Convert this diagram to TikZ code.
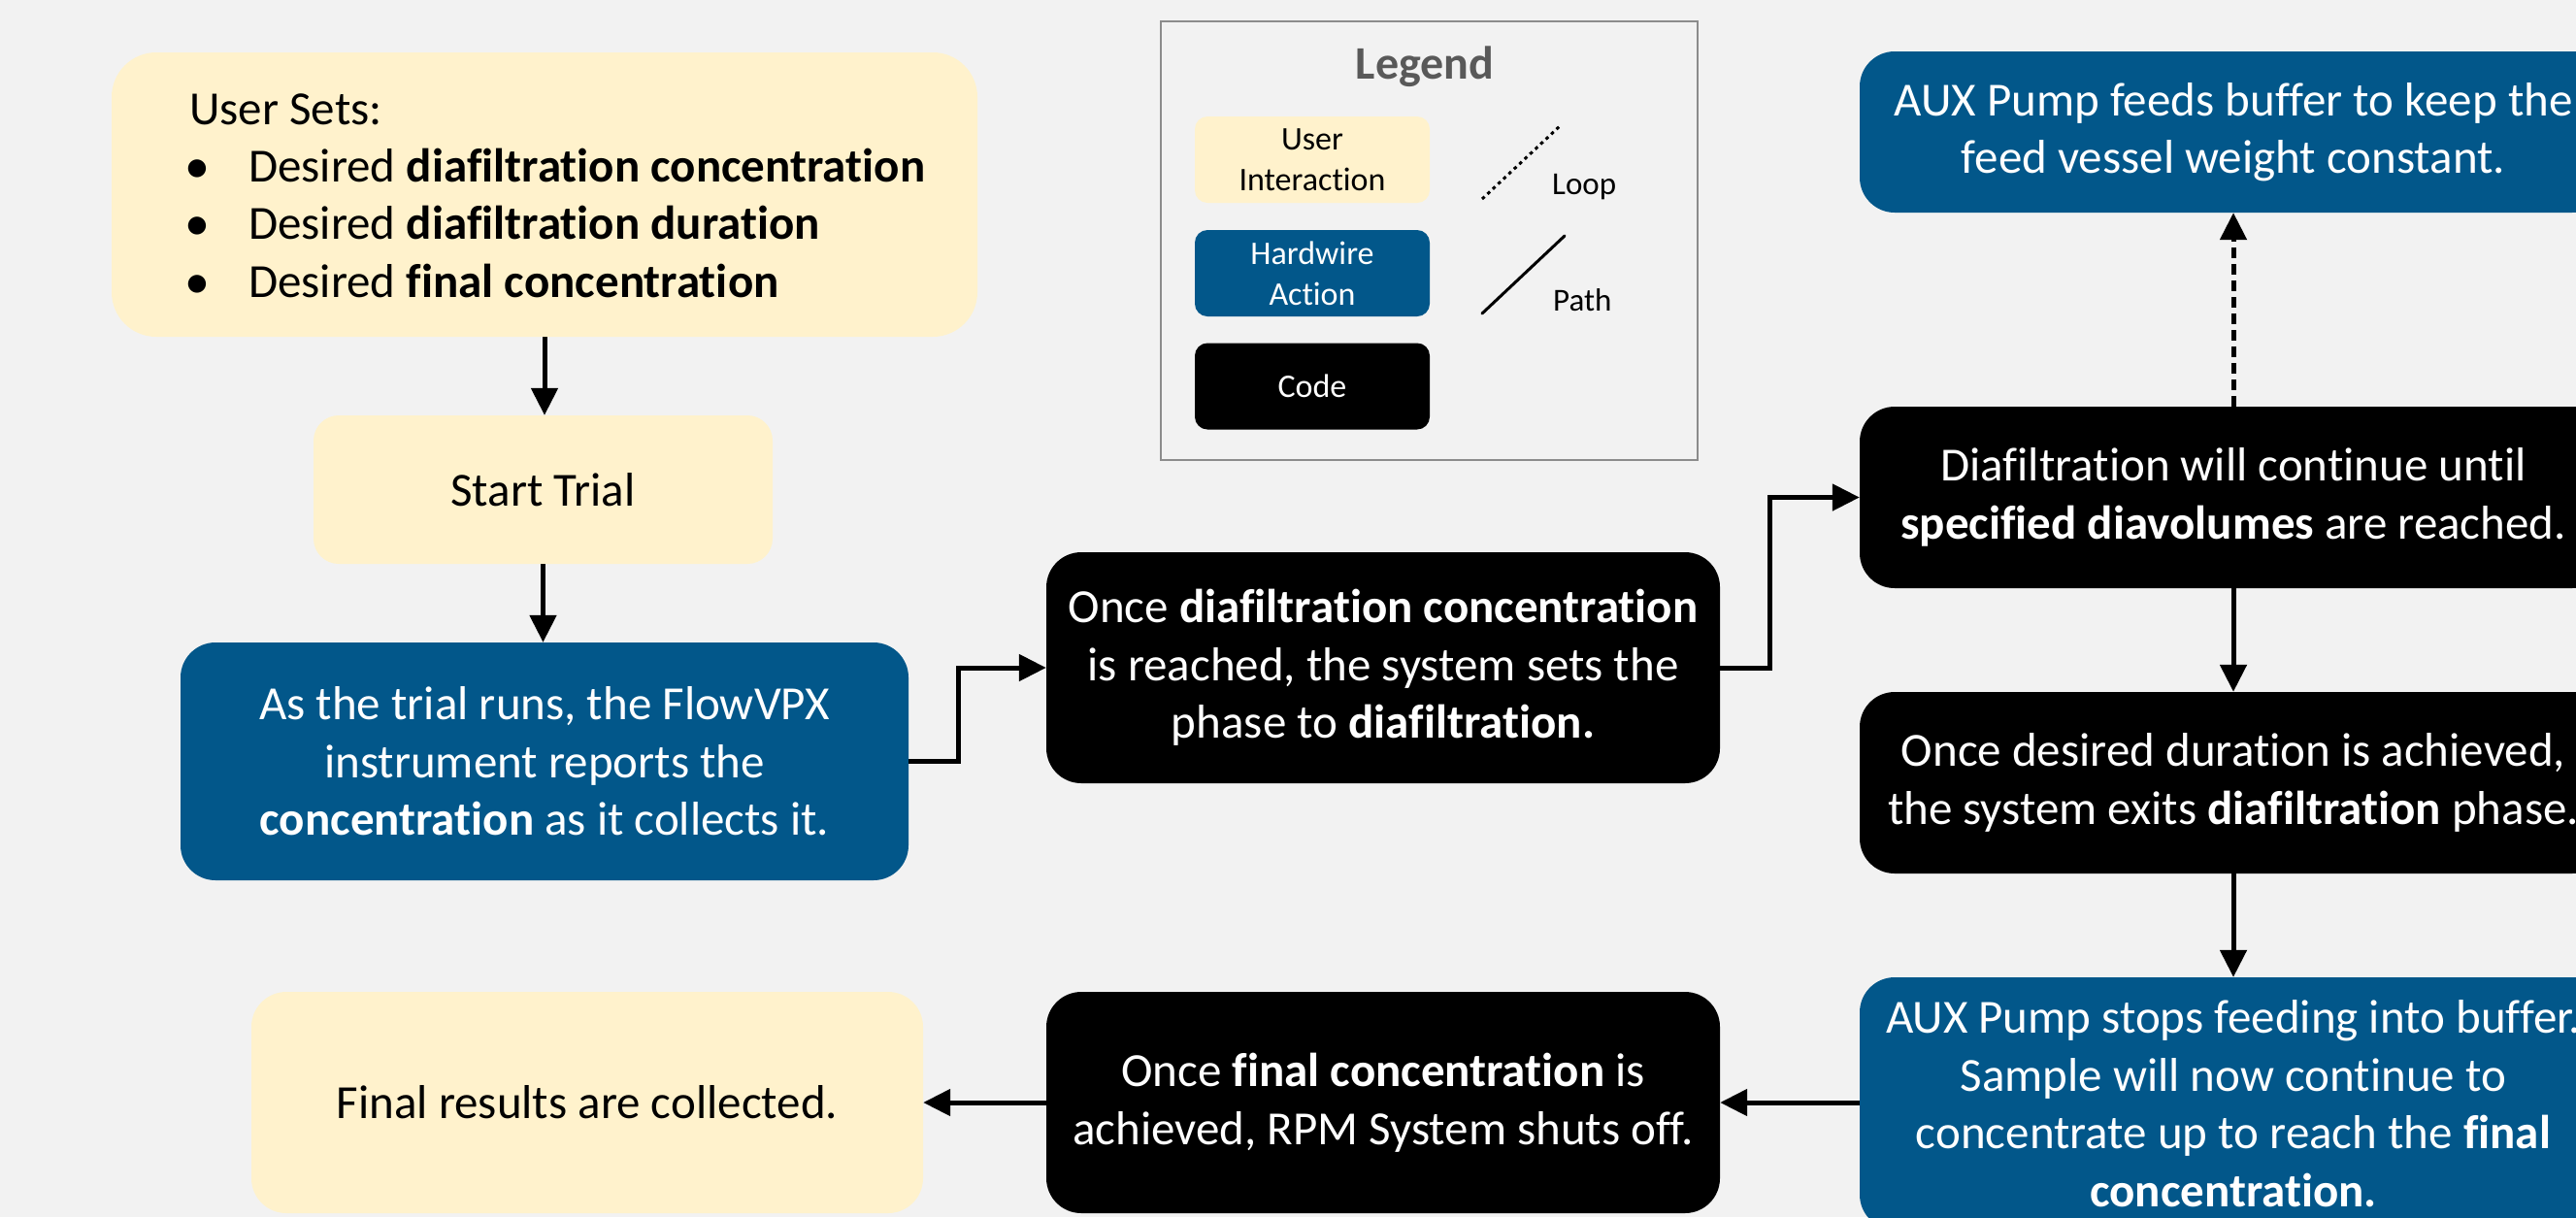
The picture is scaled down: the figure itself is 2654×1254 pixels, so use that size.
\documentclass[tikz,border=0pt]{standalone}
\usepackage{fontspec}
\setmainfont{Carlito}[Ligatures=NoCommon]
\usetikzlibrary{arrows.meta}
\definecolor{bg}{HTML}{F2F2F2}
\definecolor{ylw}{HTML}{FFF2CC}
\definecolor{blu}{HTML}{02578A}
\definecolor{lgray}{HTML}{595959}
\definecolor{lborder}{HTML}{8C8C8C}
\newcommand{\mainfs}{\fontsize{49}{59.5}\selectfont}
\newcommand{\legfs}{\fontsize{34}{42}\selectfont}
\begin{document}
\begin{tikzpicture}[x=1pt,y=-1pt,
  box/.style={rounded corners=36pt, inner sep=0pt, align=center, font=\mainfs},
  ubox/.style={box, fill=ylw, text=black},
  hbox/.style={box, fill=blu, text=white},
  cbox/.style={box, fill=black, text=white},
  legbox/.style={rounded corners=13pt, inner sep=0pt, align=center, font=\legfs,
     minimum width=242pt, minimum height=89pt},
  arr/.style={line width=5pt, -{Triangle[length=28pt,width=27pt]}},
  lbl/.style={inner sep=0pt, font=\mainfs},
  bul/.style={inner sep=0pt, anchor=base, font=\fontsize{52}{52}\selectfont}
]
\useasboundingbox (0,0) rectangle (2654,1254);
\fill[bg] (0,0) rectangle (2654,1254);
\clip (0,0) rectangle (2654,1254);

% left column
\node[ubox, rounded corners=46pt, minimum width=892pt, minimum height=293pt] (sets) at (561,200.5) {};
\node[lbl, anchor=base west] (sets0) at (195,128) {User Sets:};
\node[lbl, anchor=base west] (sets1) at (256,187) {Desired \textbf{diafiltration concentration}};
\node[lbl, anchor=base west] (sets2) at (256,246) {Desired \textbf{diafiltration duration}};
\node[lbl, anchor=base west] (sets3) at (256,306) {Desired \textbf{final concentration}};
\node[bul] (b1) at (203,188) {•};
\node[bul] (b2) at (203,247) {•};
\node[bul] (b3) at (203,307) {•};

\node[ubox, rounded corners=26pt, minimum width=473pt, minimum height=153pt] (start) at (559.5,504.5) {Start Trial};

\node[hbox, minimum width=750pt, minimum height=245pt] (runs) at (561,784.5)
  {As the trial runs, the FlowVPX\\instrument reports the\\\textbf{concentration} as it collects it.};

\node[cbox, minimum width=694pt, minimum height=238pt] (once1) at (1425,688)
  {Once \textbf{diafiltration concentration}\\is reached, the system sets the\\phase to \textbf{diafiltration.}};

\node[ubox, minimum width=692pt, minimum height=228pt] (final) at (605,1136) {Final results are collected.};

\node[cbox, minimum width=694pt, minimum height=228pt] (once2) at (1425,1136)
  {Once \textbf{final concentration} is\\achieved, RPM System shuts off.};

% right column
\node[hbox, minimum width=770pt, minimum height=166pt] (aux1) at (2301,136)
  {AUX Pump feeds buffer to keep the\\feed vessel weight constant.};
\node[cbox, minimum width=770pt, minimum height=187pt] (dia) at (2301,512.5)
  {Diafiltration will continue until\\\textbf{specified diavolumes} are reached.};
\node[cbox, minimum width=770pt, minimum height=187pt] (dur) at (2301,806.5)
  {Once desired duration is achieved,\\the system exits \textbf{diafiltration} phase.};
\node[hbox, minimum width=770pt, minimum height=260pt] (aux2) at (2301,1137)
  {AUX Pump stops feeding into buffer.\\Sample will now continue to\\concentrate up to reach the \textbf{final}\\\textbf{concentration.}};

% connectors
\draw[arr] (sets.south) -- (sets.south |- start.north);
\draw[arr] (start.south) -- (start.south |- runs.north);
\draw[arr] (runs.east) -- ++(51,0) |- (once1.west);
\draw[arr] (once1.east) -- ++(51,0) |- (dia.west);
\draw[arr, dash pattern=on 11pt off 6pt] (dia.north) -- (aux1.south);
\draw[arr] (dia.south) -- (dur.north);
\draw[arr] (dur.south) -- (aux2.north);
\draw[arr] (aux2.west |- once2.east) -- (once2.east);
\draw[arr] (once2.west) -- (final.east);

% legend
\node[draw=lborder, line width=2pt, inner sep=0pt, minimum width=553pt, minimum height=452pt] (legend) at (1472.5,248) {};
\node[inner sep=0pt, anchor=base, text=lgray, font=\fontsize{48}{54}\selectfont\bfseries] (legtitle) at (1468,81) {Legend};
\node[legbox, fill=ylw, text=black] (lu) at (1352,164.5) {User\\Interaction};
\node[legbox, fill=blu, text=white] (lh) at (1352,281.5) {Hardwire\\Action};
\node[legbox, fill=black, text=white] (lc) at (1352,398) {Code};
\coordinate (loopa) at (1527,205);
\coordinate (loopb) at (1608,129);
\coordinate (patha) at (1527,323);
\coordinate (pathb) at (1612,243);
\draw[line width=3pt, dash pattern=on 3.5pt off 4pt] (loopa) -- (loopb);
\draw[line width=3pt, line cap=round] (patha) -- (pathb);
\node[inner sep=0pt, anchor=base west, font=\fontsize{33}{38}\selectfont] (loopt) at (1599,200) {Loop};
\node[inner sep=0pt, anchor=base west, font=\fontsize{33}{38}\selectfont] (patht) at (1600,320) {Path};
\end{tikzpicture}
\end{document}
